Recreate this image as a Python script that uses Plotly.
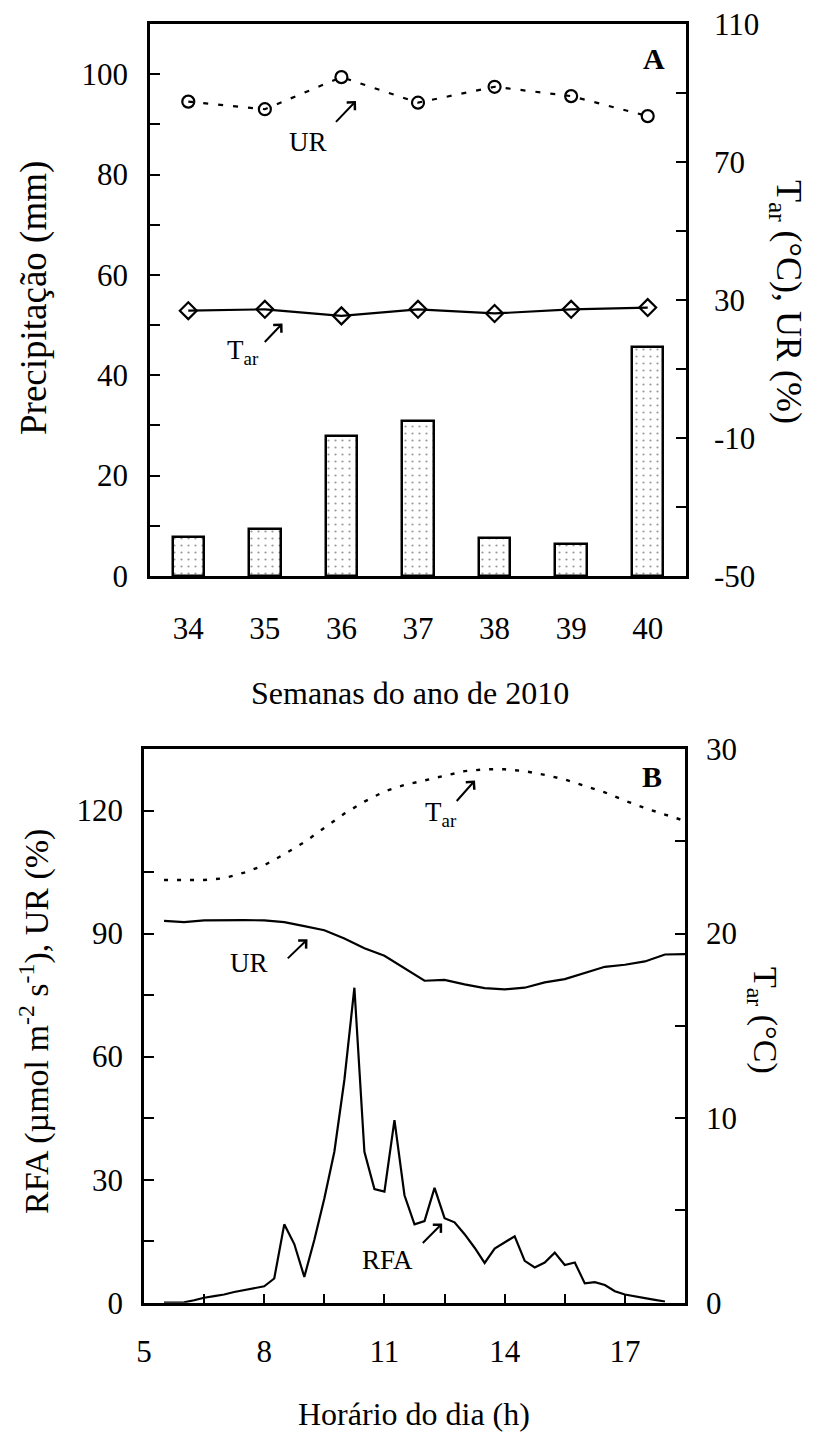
import plotly.graph_objects as go

W, H = 814, 1433

# ---- Painel A: dados semanais ----
semanas = [34, 35, 36, 37, 38, 39, 40]
precipitacao = [7.8, 9.4, 27.9, 30.9, 7.6, 6.3, 45.6]
tar_semanal = [26.9, 27.3, 25.4, 27.3, 26.1, 27.3, 27.8]
ur_semanal = [87.5, 85.3, 94.6, 87.2, 91.8, 89.1, 83.3]
ticks_dir_a = [-50, -10, 30, 70, 110]
rotulos_dir_a = ["-50", "-10", "30", "70", "110"]

# ---- Painel B: curso diário ----
hora_meia = [5.5, 6.0, 6.5, 7.0, 7.5, 8.0, 8.5, 9.0, 9.5, 10.0, 10.5, 11.0, 11.5,
             12.0, 12.5, 13.0, 13.5, 14.0, 14.5, 15.0, 15.5, 16.0, 16.5, 17.0,
             17.5, 18.0, 18.5]
ur_diaria = [93.1, 92.8, 93.2, 93.3, 93.3, 93.2, 92.8, 91.8, 90.8, 88.8, 86.4, 84.6,
             81.6, 78.5, 78.7, 77.6, 76.7, 76.4, 76.8, 78.1, 78.9, 80.4, 81.9, 82.4,
             83.2, 84.9, 85.0]
tar_diaria = [22.9, 22.9, 22.9, 23.0, 23.3, 23.7, 24.3, 24.95, 25.7, 26.5, 27.15, 27.7,
              28.05, 28.3, 28.55, 28.8, 28.9, 28.9, 28.8, 28.6, 28.35, 28.0, 27.65, 27.2,
              26.8, 26.45, 26.1]
hora_quarto = [5.5, 5.75, 6.0, 6.25, 6.5, 6.75, 7.0, 7.25, 7.5, 7.75, 8.0, 8.25, 8.5,
               8.75, 9.0, 9.25, 9.5, 9.75, 10.0, 10.25, 10.5, 10.75, 11.0, 11.25, 11.5,
               11.75, 12.0, 12.25, 12.5, 12.75, 13.0, 13.25, 13.5, 13.75, 14.0, 14.25,
               14.5, 14.75, 15.0, 15.25, 15.5, 15.75, 16.0, 16.25, 16.5, 16.75, 17.0,
               17.25, 17.5, 17.75, 18.0]
rfa = [0.0, 0.0, 0.1, 0.6, 1.2, 1.6, 2.0, 2.6, 3.1, 3.5, 4.0, 5.9, 19.1,
       14.3, 6.3, 15.3, 25.4, 36.8, 54.3, 76.8, 36.8, 27.7, 27.1, 44.5, 26.2,
       19.1, 19.9, 28.0, 20.6, 19.6, 16.7, 13.4, 9.7, 13.2, 14.7, 16.2,
       10.2, 8.6, 9.8, 12.2, 9.2, 9.8, 4.7, 5.0, 4.3, 2.8, 2.0,
       1.5, 1.1, 0.7, 0.3]

FONT = "Liberation Serif, Times New Roman, serif"
TICK = dict(family=FONT, size=31, color="black")
TXT = dict(family=FONT, size=27, color="black")
XTIT = dict(family=FONT, size=32, color="black")


def ytit(size):
    return dict(family=FONT, size=size, color="black")


def px_x(p):
    return p / W


def px_y(p):
    return 1 - p / H


dom_ax = [px_x(150), px_x(686)]
dom_ay = [px_y(576), px_y(24)]
dom_bx = [px_x(144), px_x(685)]
dom_by = [px_y(1302.7), px_y(749)]

fig = go.Figure()

# Precipitação semanal (barras pontilhadas)
fig.add_trace(go.Bar(
    x=semanas, y=precipitacao, width=0.41, xaxis="x", yaxis="y",
    marker=dict(color="white", line=dict(color="black", width=2.5),
                pattern=dict(shape=".", fgcolor="#333", bgcolor="white",
                             size=7, solidity=0.08)),
    showlegend=False))

# UR semanal (linha tracejada, círculos)
fig.add_trace(go.Scatter(
    x=semanas, y=ur_semanal, xaxis="x", yaxis="y2", mode="lines+markers",
    line=dict(color="black", width=2.2, dash="5px,10px"),
    marker=dict(symbol="circle-open", size=12, color="black",
                line=dict(color="black", width=2.2)),
    showlegend=False))

# Tar semanal (linha contínua, losangos)
fig.add_trace(go.Scatter(
    x=semanas, y=tar_semanal, xaxis="x", yaxis="y2", mode="lines+markers",
    line=dict(color="black", width=2.2),
    marker=dict(symbol="diamond-open", size=13, color="black",
                line=dict(color="black", width=2.2)),
    showlegend=False))

# Painel B
fig.add_trace(go.Scatter(
    x=hora_meia, y=ur_diaria, xaxis="x2", yaxis="y3", mode="lines",
    line=dict(color="black", width=2.2), showlegend=False))
fig.add_trace(go.Scatter(
    x=hora_quarto, y=rfa, xaxis="x2", yaxis="y3", mode="lines",
    line=dict(color="black", width=2.2), showlegend=False))
fig.add_trace(go.Scatter(
    x=hora_meia, y=tar_diaria, xaxis="x2", yaxis="y4", mode="lines",
    line=dict(color="black", width=2.4, dash="4px,9px"), showlegend=False))

axis_common = dict(showgrid=False, zeroline=False, showline=True, linecolor="black",
                   linewidth=2.5, tickfont=TICK, automargin=False,
                   tickcolor="black", tickwidth=2)


def minor(tick0, dtick, ln=10):
    return dict(tickmode="linear", tick0=tick0, dtick=dtick, ticks="inside", ticklen=ln,
                tickcolor="black", tickwidth=2)


fig.update_layout(
    width=W, height=H, margin=dict(l=0, r=0, t=0, b=0),
    paper_bgcolor="white", plot_bgcolor="white", bargap=0,
    font=dict(family=FONT, color="black"),
    xaxis=dict(domain=dom_ax, range=[33.5, 40.5], tickvals=semanas, ticks="",
               mirror=True, anchor="y", ticklabelstandoff=23, **axis_common),
    yaxis=dict(domain=dom_ay, range=[0, 110], dtick=20, ticks="inside", ticklen=10,
               minor=minor(0, 10), anchor="x", ticklabelstandoff=13, **axis_common),
    yaxis2=dict(domain=dom_ay, range=[-50, 110], tickmode="array", tickvals=ticks_dir_a,
                ticktext=rotulos_dir_a, ticks="inside", ticklen=10, overlaying="y",
                side="right", anchor="x", minor=minor(-50, 20),
                ticklabelstandoff=19, **axis_common),
    xaxis2=dict(domain=dom_bx, range=[5, 18.5], dtick=3, tick0=5, ticks="inside",
                ticklen=9, mirror=True, anchor="y3", minor=minor(5, 1.5, 9),
                ticklabelstandoff=19, **axis_common),
    yaxis3=dict(domain=dom_by, range=[0, 135], dtick=30, ticks="inside", ticklen=10,
                minor=minor(0, 15), anchor="x2", ticklabelstandoff=12, **axis_common),
    yaxis4=dict(domain=dom_by, range=[0, 30], dtick=10, ticks="inside", ticklen=10,
                overlaying="y3", side="right", anchor="x2", minor=minor(0, 5),
                ticklabelstandoff=12, **axis_common),
)

ann = []


def titulo(texto, xp, yp, fonte, ang=0):
    ann.append(dict(text=texto, xref="paper", yref="paper", x=px_x(xp), y=px_y(yp),
                    xanchor="center", yanchor="middle", textangle=ang,
                    showarrow=False, font=fonte))


# Títulos dos eixos
titulo("Semanas do ano de 2010", 410, 693, XTIT)
titulo("Horário do dia (h)", 414, 1414, XTIT)
titulo("Precipitação (mm)", 34, 298, ytit(37), -90)
titulo("T<sub>ar</sub> (°C), UR (%)", 786, 302, ytit(36), 90)
titulo("RFA (µmol m<sup>-2</sup> s<sup>-1</sup>), UR (%)", 34, 1022, ytit(34), -90)
titulo("T<sub>ar</sub> (°C)", 763, 1020, ytit(34), 90)

# Letras dos painéis
ann.append(dict(text="<b>A</b>", xref="x", yref="y2", x=40.08, y=100, showarrow=False,
                font=dict(family=FONT, size=30)))
ann.append(dict(text="<b>B</b>", xref="x2", yref="y4", x=17.68, y=28.5, showarrow=False,
                font=dict(family=FONT, size=30)))


# Rótulos das curvas com setas
def rotulo(texto, xr, yr, xt, yt, x0, y0, x1, y1):
    ann.append(dict(text=texto, xref=xr, yref=yr, x=xt, y=yt, showarrow=False, font=TXT))
    ann.append(dict(text="", xref=xr, yref=yr, x=x1, y=y1, axref=xr, ayref=yr,
                    ax=x0, ay=y0, showarrow=True, arrowhead=4, arrowsize=1.1,
                    arrowwidth=2, arrowcolor="black", standoff=0, startstandoff=0))


rotulo("UR", "x", "y2", 35.56, 75.9, 35.91, 81.2, 36.19, 87.7)
rotulo("T<sub>ar</sub>", "x", "y2", 34.72, 15.0, 34.98, 17.4, 35.23, 23.2)
rotulo("T<sub>ar</sub>", "x2", "y4", 12.41, 26.5, 12.77, 27.1, 13.26, 28.3)
rotulo("UR", "x2", "y3", 7.62, 82.8, 8.55, 83.6, 9.08, 88.6)
rotulo("RFA", "x2", "y3", 11.07, 10.4, 11.92, 14.2, 12.44, 19.3)

fig.update_layout(annotations=ann)

fig.write_html("out.html")
